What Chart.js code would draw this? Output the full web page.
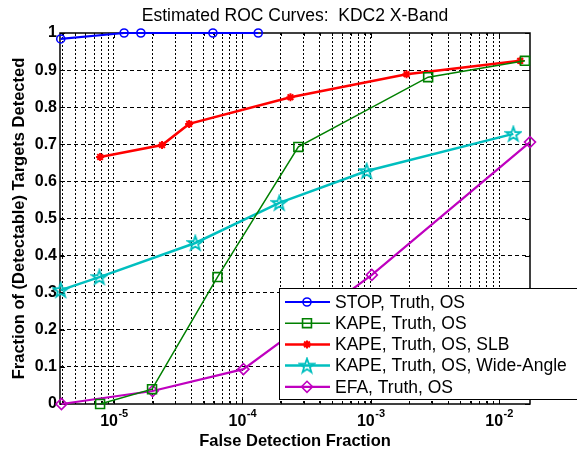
<!DOCTYPE html>
<html>
<head>
<meta charset="utf-8">
<script src="https://cdn.jsdelivr.net/npm/chart.js@4.4.0/dist/chart.umd.min.js"></script>
<style>
  html, body { margin: 0; padding: 0; background: #fff; }
  #wrap { width: 577px; height: 452px; }
</style>
</head>
<body>
<div id="wrap"><canvas id="roc" width="577" height="452"></canvas></div>
<script>
// Estimated ROC curves, KDC2 X-Band (log false-alarm axis)
const chartTitle = 'Estimated ROC Curves:  KDC2 X-Band';
const xTitle = 'False Detection Fraction';
const yTitle = 'Fraction of (Detectable) Targets Detected';

const seriesNames = [
    'STOP, Truth, OS',
    'KAPE, Truth, OS',
    'KAPE, Truth, OS, SLB',
    'KAPE, Truth, OS, Wide-Angle',
    'EFA, Truth, OS'
];

const stopFa = [3.85e-6, 1.2e-5, 1.62e-5, 5.9e-5, 1.33e-4];
const stopPd = [0.984, 1.0, 1.0, 1.0, 1.0];

const kapeFa = [7.8e-6, 1.98e-5, 6.4e-5, 2.73e-4, 2.8e-3, 1.59e-2];
const kapePd = [0.0, 0.04, 0.342, 0.693, 0.881, 0.925];

const slbFa = [7.8e-6, 2.37e-5, 3.85e-5, 2.37e-4, 1.9e-3, 1.46e-2];
const slbPd = [0.666, 0.698, 0.755, 0.827, 0.889, 0.925];

const wideFa = [3.85e-6, 7.7e-6, 4.3e-5, 1.94e-4, 9.3e-4, 1.29e-2];
const widePd = [0.307, 0.342, 0.434, 0.542, 0.628, 0.728];

const efaFa = [3.9e-6, 2.0e-5, 1.02e-4, 1.02e-3, 1.74e-2];
const efaPd = [0.0, 0.035, 0.094, 0.348, 0.706];

const xMin = 3.8e-6;
const xMax = 1.74e-2;
const xDecades = [1e-5, 1e-4, 1e-3, 1e-2];
const xDecadeLabels = ['-5', '-4', '-3', '-2'];

const FONT = "'Liberation Sans', Arial, sans-serif";

function pts(xs, ys) {
    return xs.map((x, i) => ({ x: x, y: ys[i] }));
}

// MATLAB-style pentagram marker
function pentagram(color) {
    const c = document.createElement('canvas');
    c.width = 18; c.height = 18;
    const g = c.getContext('2d');
    g.strokeStyle = color;
    g.lineWidth = 1.8;
    g.beginPath();
    for (let i = 0; i < 10; i++) {
        const r = i % 2 === 0 ? 7.5 : 3;
        const a = -Math.PI / 2 + i * Math.PI / 5;
        const px = 9 + r * Math.cos(a), py = 9.5 + r * Math.sin(a);
        if (i === 0) g.moveTo(px, py); else g.lineTo(px, py);
    }
    g.closePath();
    g.stroke();
    return c;
}

const frame = {
    id: 'frame',
    beforeDatasetsDraw(chart) {
        const { ctx, chartArea: a, scales } = chart;
        ctx.save();
        ctx.strokeStyle = '#000';
        ctx.lineWidth = 1.5;
        ctx.strokeRect(a.left, a.top, a.right - a.left, a.bottom - a.top);
        ctx.lineWidth = 1;
        ctx.beginPath();
        scales.y.ticks.forEach(t => {
            const py = Math.round(scales.y.getPixelForValue(t.value)) + 0.5;
            ctx.moveTo(a.left, py); ctx.lineTo(a.left + 5, py);
            ctx.moveTo(a.right, py); ctx.lineTo(a.right - 5, py);
        });
        scales.x.ticks.forEach(t => {
            const px = Math.round(scales.x.getPixelForValue(t.value)) + 0.5;
            const len = t.major ? 5 : 3;
            ctx.moveTo(px, a.bottom); ctx.lineTo(px, a.bottom - len);
            ctx.moveTo(px, a.top); ctx.lineTo(px, a.top + len);
        });
        ctx.stroke();
        ctx.restore();
    },
    afterDraw(chart) {
        const { ctx, chartArea: a, scales } = chart;
        const cx = (a.left + a.right) / 2;
        ctx.save();
        ctx.fillStyle = '#000';

        // x tick labels with superscript exponents
        xDecades.forEach((v, i) => {
            const px = scales.x.getPixelForValue(v);
            ctx.font = 'bold 16px ' + FONT;
            const w1 = ctx.measureText('10').width;
            ctx.font = 'bold 11px ' + FONT;
            const w2 = ctx.measureText(xDecadeLabels[i]).width;
            const x0 = px - (w1 + w2) / 2;
            ctx.textAlign = 'left';
            ctx.textBaseline = 'alphabetic';
            ctx.font = 'bold 16px ' + FONT;
            ctx.fillText('10', x0, a.bottom + 22);
            ctx.font = 'bold 11px ' + FONT;
            ctx.fillText(xDecadeLabels[i], x0 + w1 + 0.5, a.bottom + 13);
        });

        // title and axis titles
        ctx.textAlign = 'center';
        ctx.textBaseline = 'middle';
        ctx.font = '17.5px ' + FONT;
        ctx.fillText(chartTitle, cx, 16);
        ctx.font = 'bold 16.5px ' + FONT;
        ctx.fillText(xTitle, cx, 441);
        ctx.save();
        ctx.translate(19, (a.top + a.bottom) / 2);
        ctx.rotate(-Math.PI / 2);
        ctx.fillText(yTitle, 0, 0);
        ctx.restore();

        // legend box in lower right, drawn over the axes
        const lx = 279, ly = 288, lw = 310, lh = 111;
        ctx.fillStyle = '#fff';
        ctx.fillRect(lx, ly, lw, lh);
        ctx.strokeStyle = '#000';
        ctx.lineWidth = 1;
        ctx.strokeRect(lx + 0.5, ly + 0.5, lw, lh);
        chart.data.datasets.forEach((ds, i) => {
            const ry = ly + 14 + i * 21.2;
            ctx.strokeStyle = ds.borderColor;
            ctx.lineWidth = ds.borderWidth;
            ctx.beginPath();
            ctx.moveTo(lx + 6, ry); ctx.lineTo(lx + 51, ry);
            ctx.stroke();
            ctx.lineWidth = ds.pointBorderWidth;
            ctx.fillStyle = 'rgba(0,0,0,0)';
            Chart.helpers.drawPoint(ctx, {
                pointStyle: ds.pointStyle,
                radius: ds.pointRadius,
                borderWidth: ds.pointBorderWidth,
                rotation: 0
            }, lx + 28, ry);
            ctx.fillStyle = '#000';
            ctx.font = '17.5px ' + FONT;
            ctx.textAlign = 'left';
            ctx.fillText(ds.label, lx + 56, ry + 1);
        });
        ctx.restore();
    }
};

function series(label, data, color, width, style, radius, pbw) {
    return {
        label: label,
        data: data,
        borderColor: color,
        backgroundColor: color,
        borderWidth: width,
        pointStyle: style,
        pointRadius: radius,
        pointBorderColor: color,
        pointBackgroundColor: 'rgba(0,0,0,0)',
        pointBorderWidth: pbw,
        tension: 0,
        clip: false
    };
}

new Chart(document.getElementById('roc'), {
    type: 'line',
    data: {
        datasets: [
            series(seriesNames[0], pts(stopFa, stopPd), '#0000ff', 2.2, 'circle', 4, 1.6),
            series(seriesNames[1], pts(kapeFa, kapePd), '#008000', 1.5, 'rect', 6.3, 1.6),
            series(seriesNames[2], pts(slbFa, slbPd), '#ff0000', 2.5, 'star', 4, 2),
            series(seriesNames[3], pts(wideFa, widePd), '#00bfbf', 2.5, pentagram('#00bfbf'), 8, 1.8),
            series(seriesNames[4], pts(efaFa, efaPd), '#bf00bf', 2.2, 'rectRot', 5.5, 1.6)
        ]
    },
    options: {
        responsive: false,
        animation: false,
        events: [],
        layout: { padding: { top: 33, right: 47, left: 0, bottom: 0 } },
        plugins: {
            legend: { display: false },
            title: { display: false },
            tooltip: { enabled: false }
        },
        scales: {
            x: {
                type: 'logarithmic',
                min: xMin,
                max: xMax,
                afterBuildTicks: (scale) => {
                    const ticks = [];
                    for (let e = -6; e <= -1; e++) {
                        for (let m = 1; m <= 9; m++) {
                            const v = m * Math.pow(10, e);
                            if (v > xMin && v < xMax) ticks.push({ value: v, major: m === 1 });
                        }
                    }
                    scale.ticks = ticks;
                },
                afterFit: (scale) => { scale.height = 48; },
                ticks: { display: false, autoSkip: false },
                grid: { color: '#000', lineWidth: 1, drawTicks: false },
                border: { display: false, dash: [2, 2] }
            },
            y: {
                min: 0,
                max: 1,
                afterFit: (scale) => { scale.width = 60; },
                ticks: {
                    stepSize: 0.1,
                    padding: 3,
                    color: '#000',
                    font: { family: FONT, size: 16, weight: 'bold' },
                    callback: (v) => String(Number(v.toFixed(1)))
                },
                grid: {
                    color: (c) => (c.tick && (c.tick.value <= 0.001 || c.tick.value >= 0.999)) ? 'rgba(0,0,0,0)' : '#000',
                    lineWidth: 1,
                    drawTicks: false
                },
                border: { display: false, dash: [4, 3] }
            }
        }
    },
    plugins: [frame]
});
</script>
</body>
</html>
